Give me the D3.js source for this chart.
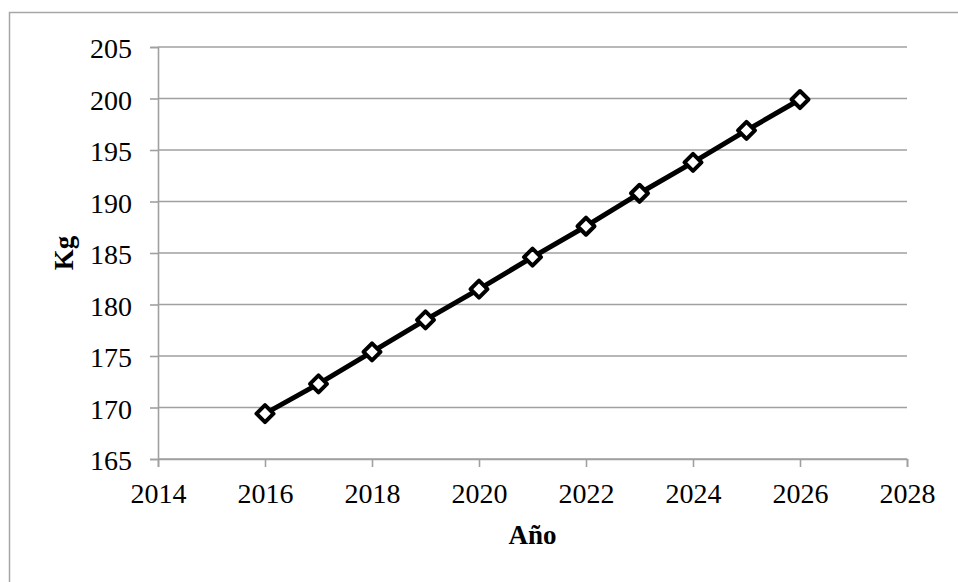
<!DOCTYPE html>
<html>
<head>
<meta charset="utf-8">
<script src="https://cdn.jsdelivr.net/npm/d3@7"></script>
<style>
  html, body { margin: 0; padding: 0; background: #fff; }
  svg { display: block; }
  text { font-family: "Liberation Serif", "DejaVu Serif", serif; fill: #000; }
</style>
</head>
<body>
<svg id="chart" width="958" height="582"></svg>
<script>
// Projected weight per year
const years = [2016, 2017, 2018, 2019, 2020, 2021, 2022, 2023, 2024, 2025, 2026];
const kg = [169.4, 172.3, 175.4, 178.5, 181.5, 184.6, 187.6, 190.8, 193.8, 196.9, 199.9];
const xTicks = [2014, 2016, 2018, 2020, 2022, 2024, 2026, 2028];
const yTicks = [165, 170, 175, 180, 185, 190, 195, 200, 205];
const xTitle = "Año";
const yTitle = "Kg";

const svg = d3.select("#chart");
const W = 958, H = 582;
const plot = { left: 158, right: 907, top: 47, bottom: 459 };
const grid = "#a0a0a0";
const labelSize = "28px";

// outer chart frame
svg.append("rect")
  .attr("x", 9.5).attr("y", 12.5)
  .attr("width", W + 10).attr("height", H + 10)
  .attr("fill", "#fff").attr("stroke", "#a6a6a6").attr("stroke-width", 1.5);

const x = d3.scaleLinear().domain([2014, 2028]).range([plot.left, plot.right]);
const y = d3.scaleLinear().domain([165, 205]).range([plot.bottom, plot.top]);

// horizontal gridlines
svg.append("g")
  .selectAll("line")
  .data(yTicks)
  .join("line")
  .attr("x1", plot.left).attr("x2", plot.right)
  .attr("y1", d => y(d)).attr("y2", d => y(d))
  .attr("stroke", grid).attr("stroke-width", 1.6);

// y axis
const yAxis = svg.append("g")
  .attr("transform", `translate(${plot.left},0)`)
  .call(d3.axisLeft(y).tickValues(yTicks).tickSize(8).tickPadding(18).tickFormat(d3.format("d")));
yAxis.select(".domain").attr("stroke", grid).attr("stroke-width", 1.6);
yAxis.selectAll(".tick line").attr("stroke", grid).attr("stroke-width", 1.6);
yAxis.selectAll(".tick text")
  .style("font-family", "'Liberation Serif', serif")
  .style("font-size", labelSize)
  .attr("dy", "0.39em");

// x axis
const xAxis = svg.append("g")
  .attr("transform", `translate(0,${plot.bottom})`)
  .call(d3.axisBottom(x).tickValues(xTicks).tickSize(8).tickPadding(16).tickFormat(d3.format("d")));
xAxis.select(".domain").attr("stroke", grid).attr("stroke-width", 1.6);
xAxis.selectAll(".tick line").attr("stroke", grid).attr("stroke-width", 1.6);
xAxis.selectAll(".tick text")
  .style("font-family", "'Liberation Serif', serif")
  .style("font-size", labelSize);

// axis titles
svg.append("text")
  .attr("x", (plot.left + plot.right) / 2)
  .attr("y", 544)
  .attr("text-anchor", "middle")
  .style("font-size", "27px")
  .style("font-weight", "bold")
  .text(xTitle);

svg.append("text")
  .attr("transform", `translate(73,${(plot.top + plot.bottom) / 2}) rotate(-90)`)
  .attr("text-anchor", "middle")
  .style("font-size", "27px")
  .style("font-weight", "bold")
  .text(yTitle);

// data line
const pts = years.map((yr, i) => [yr, kg[i]]);
svg.append("path")
  .datum(pts)
  .attr("fill", "none")
  .attr("stroke", "#000")
  .attr("stroke-width", 5)
  .attr("stroke-linejoin", "round")
  .attr("d", d3.line().x(d => x(d[0])).y(d => y(d[1])));

// diamond markers
const r = 8.5;
svg.append("g")
  .selectAll("path")
  .data(pts)
  .join("path")
  .attr("transform", d => `translate(${x(d[0])},${y(d[1])})`)
  .attr("d", `M0,${-r}L${r},0L0,${r}L${-r},0Z`)
  .attr("fill", "#fff")
  .attr("stroke", "#000")
  .attr("stroke-width", 4)
  .attr("stroke-linejoin", "round");
</script>
</body>
</html>
